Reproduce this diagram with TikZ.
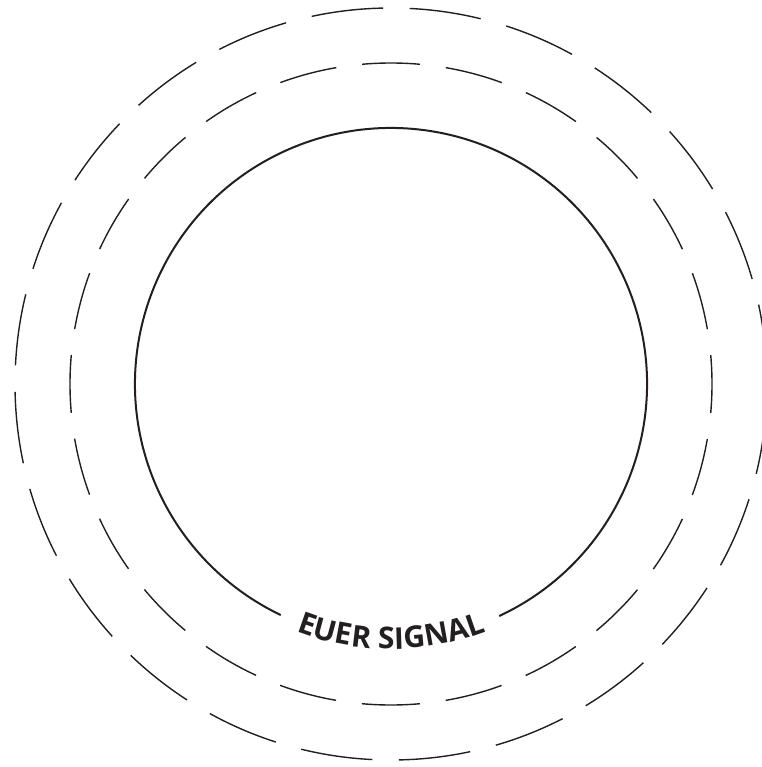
\documentclass[tikz,border=0pt]{standalone}
\usepackage{fontspec}
\newfontfamily\signalfamily{Open Sans}
\usetikzlibrary{decorations.text}
\definecolor{ink}{HTML}{231F20}

\newcommand{\signalfont}{\signalfamily\bfseries\fontsize{30}{34}\selectfont}

\begin{document}
\begin{tikzpicture}[x=1pt, y=1pt, line cap=butt]

% Page frame
\useasboundingbox (0,0) rectangle (761,-767);

% Centre of all rings
\coordinate (c) at (391,-384);

% Outer dashed ring
\draw[ink, line width=1.4pt, dash pattern=on 72pt off 26.44pt, dash phase=90.47pt]
  (c) circle (376);

% Middle dashed ring
\draw[ink, line width=1.4pt, dash pattern=on 58pt off 26.04pt, dash phase=29pt]
  (c) circle (321);

% Inner ring, open at the bottom for the label
\draw[ink, line width=2pt] (c) ++(-65:256) arc (-65:244.5:256);

% Curved label
\path[decorate, decoration={text along path, text align=center,
    text color=ink, text={|\signalfont|EUER SIGNAL}}]
  (c) ++(230:265) arc (230:310:265);

\end{tikzpicture}
\end{document}
